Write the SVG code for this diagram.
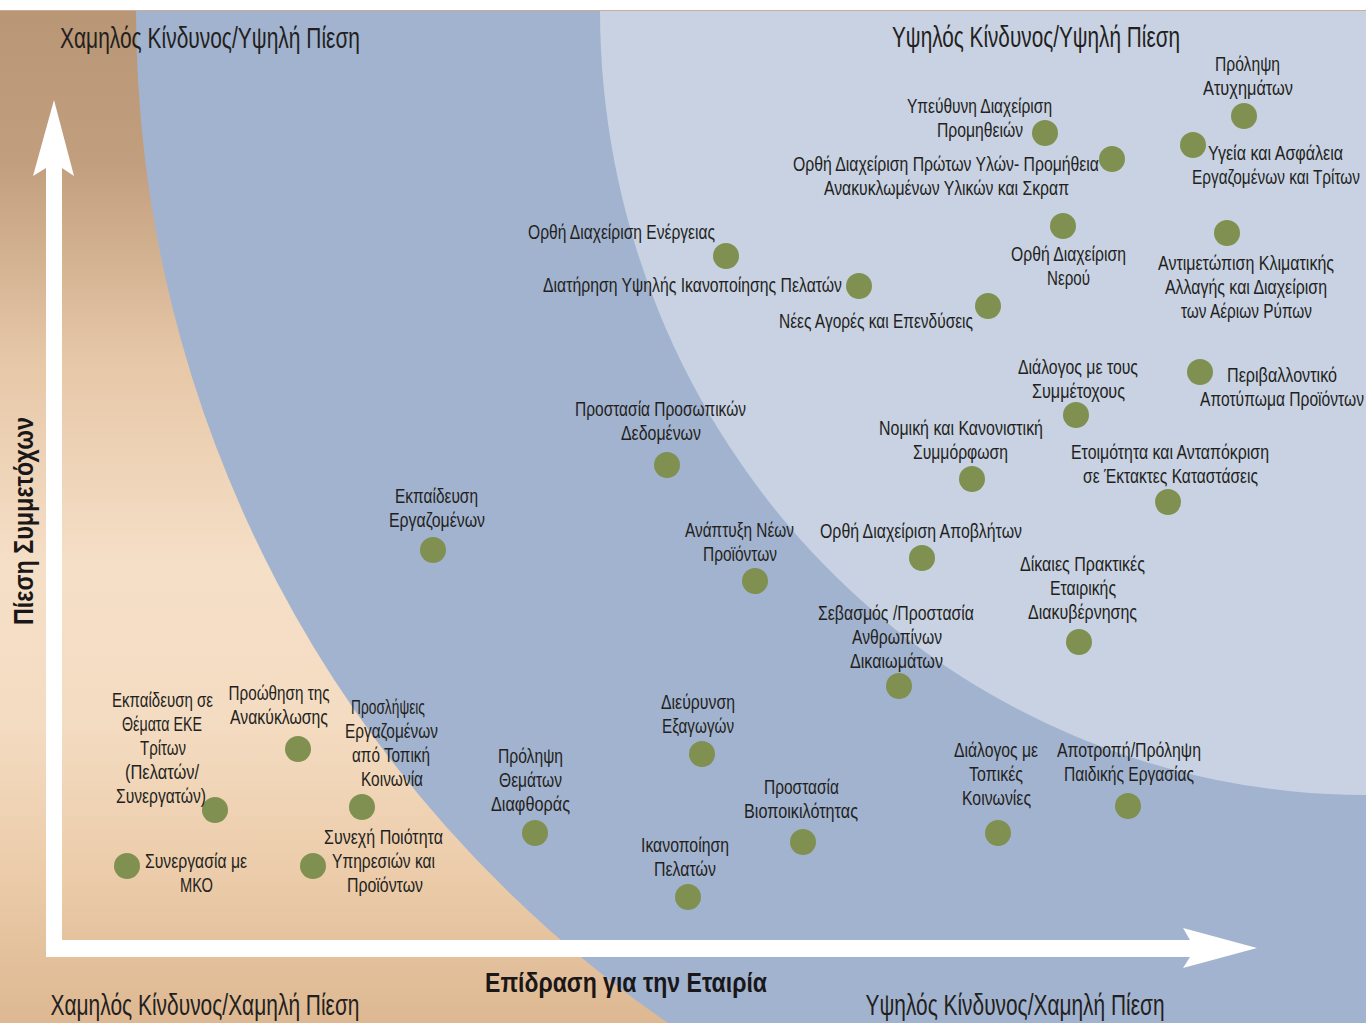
<svg xmlns="http://www.w3.org/2000/svg" width="1366" height="1023" viewBox="0 0 1366 1023">
<defs>
<style>
.t{font-family:"Liberation Sans Narrow","Liberation Sans",Arial,sans-serif;font-size:21px;fill:#231f20;text-anchor:middle}
.h{font-family:"Liberation Sans Narrow","Liberation Sans",Arial,sans-serif;font-size:29px;fill:#231f20;text-anchor:middle}
.b{font-family:"Liberation Sans Narrow","Liberation Sans",Arial,sans-serif;font-size:28px;font-weight:bold;fill:#1a1718;text-anchor:middle}
.dot{fill:#7f9050}
</style>
<linearGradient id="tan" gradientUnits="userSpaceOnUse" x1="0" y1="10" x2="0" y2="1023">
<stop offset="0" stop-color="#b99676"/>
<stop offset="0.15" stop-color="#c19e7e"/>
<stop offset="0.35" stop-color="#e7c8a8"/>
<stop offset="0.55" stop-color="#f5dfc7"/>
<stop offset="0.7" stop-color="#f4dcc2"/>
<stop offset="0.85" stop-color="#ecccaa"/>
<stop offset="1" stop-color="#ddb892"/>
</linearGradient>
</defs>
<rect x="0" y="0" width="1366" height="1023" fill="#ffffff"/>
<g id="background">
<rect x="0" y="10" width="1366" height="1013" fill="url(#tan)"/>
<path d="M136 10 A1230 1230 0 0 0 668 1023 L1366 1023 L1366 10 Z" fill="#a2b3cf"/>
<path d="M600 10 A766 785 0 0 0 1366 795 L1366 10 Z" fill="#c8d2e3"/>
<line x1="0" y1="10.5" x2="1366" y2="10.5" stroke="#c8ae96" stroke-width="1"/>
</g>
<g id="connectors">
<path d="M54 100 L74 176 L62 168 L62 957 L46 957 L46 168 L33 176 Z" fill="#ffffff"/>
<path d="M1257 948 L1183 928 L1190 940 L46 940 L46 957 L1190 957 L1183 968 Z" fill="#ffffff"/>
</g>
<g id="titles">
<text class="h" x="210" y="48" textLength="300" lengthAdjust="spacingAndGlyphs">Χαμηλός Κίνδυνος/Υψηλή Πίεση</text>
<text class="h" x="1036" y="47" textLength="288" lengthAdjust="spacingAndGlyphs">Υψηλός Κίνδυνος/Υψηλή Πίεση</text>
<text class="h" x="205" y="1015" textLength="309" lengthAdjust="spacingAndGlyphs">Χαμηλός Κίνδυνος/Χαμηλή Πίεση</text>
<text class="h" x="1015" y="1015" textLength="299" lengthAdjust="spacingAndGlyphs">Υψηλός Κίνδυνος/Χαμηλή Πίεση</text>
<text class="b" x="626" y="992" textLength="282" lengthAdjust="spacingAndGlyphs">Επίδραση για την Εταιρία</text>
<text class="b" transform="translate(33 521) rotate(-90)" x="0" y="0" textLength="208" lengthAdjust="spacingAndGlyphs">Πίεση Συμμετόχων</text>
</g>
<g id="n-ypeuthyni">
<circle class="dot" cx="1045" cy="133" r="13"/>
<text class="t" x="979.5" y="113" textLength="145" lengthAdjust="spacingAndGlyphs">Υπεύθυνη Διαχείριση</text>
<text class="t" x="980" y="137" textLength="86" lengthAdjust="spacingAndGlyphs">Προμηθειών</text>
</g>
<g id="n-protes-yles">
<circle class="dot" cx="1112" cy="159" r="13"/>
<text class="t" x="946" y="171" textLength="306" lengthAdjust="spacingAndGlyphs">Ορθή Διαχείριση Πρώτων Υλών- Προμήθεια</text>
<text class="t" x="946.5" y="195" textLength="245" lengthAdjust="spacingAndGlyphs">Ανακυκλωμένων Υλικών και Σκραπ</text>
</g>
<g id="n-nero">
<circle class="dot" cx="1063" cy="226" r="13"/>
<text class="t" x="1068.5" y="261" textLength="115" lengthAdjust="spacingAndGlyphs">Ορθή Διαχείριση</text>
<text class="t" x="1068.5" y="285" textLength="43" lengthAdjust="spacingAndGlyphs">Νερού</text>
</g>
<g id="n-energeia">
<circle class="dot" cx="726" cy="256" r="13"/>
<text class="t" x="621.5" y="239" textLength="187" lengthAdjust="spacingAndGlyphs">Ορθή Διαχείριση Ενέργειας</text>
</g>
<g id="n-ikanopoiisi-ypsili">
<circle class="dot" cx="859" cy="286" r="13"/>
<text class="t" x="692.5" y="292" textLength="299" lengthAdjust="spacingAndGlyphs">Διατήρηση Υψηλής Ικανοποίησης Πελατών</text>
</g>
<g id="n-agores">
<circle class="dot" cx="988" cy="306" r="13"/>
<text class="t" x="876" y="328" textLength="194" lengthAdjust="spacingAndGlyphs">Νέες Αγορές και Επενδύσεις</text>
</g>
<g id="n-atyximata">
<circle class="dot" cx="1244" cy="116" r="13"/>
<text class="t" x="1247.5" y="71" textLength="65" lengthAdjust="spacingAndGlyphs">Πρόληψη</text>
<text class="t" x="1248" y="95" textLength="90" lengthAdjust="spacingAndGlyphs">Ατυχημάτων</text>
</g>
<g id="n-ygeia">
<circle class="dot" cx="1193" cy="145" r="13"/>
<text class="t" x="1275.5" y="160" textLength="135" lengthAdjust="spacingAndGlyphs">Υγεία και Ασφάλεια</text>
<text class="t" x="1276" y="184" textLength="168" lengthAdjust="spacingAndGlyphs">Εργαζομένων και Τρίτων</text>
</g>
<g id="n-klima">
<circle class="dot" cx="1227" cy="233" r="13"/>
<text class="t" x="1246" y="270" textLength="176" lengthAdjust="spacingAndGlyphs">Αντιμετώπιση Κλιματικής</text>
<text class="t" x="1246" y="294" textLength="162" lengthAdjust="spacingAndGlyphs">Αλλαγής και Διαχείριση</text>
<text class="t" x="1246.5" y="318" textLength="131" lengthAdjust="spacingAndGlyphs">των Αέριων Ρύπων</text>
</g>
<g id="n-dialogos-metoxoi">
<circle class="dot" cx="1076" cy="415" r="13"/>
<text class="t" x="1078" y="374" textLength="120" lengthAdjust="spacingAndGlyphs">Διάλογος με τους</text>
<text class="t" x="1078.5" y="398" textLength="93" lengthAdjust="spacingAndGlyphs">Συμμέτοχους</text>
</g>
<g id="n-apotypoma">
<circle class="dot" cx="1200" cy="372" r="13"/>
<text class="t" x="1282" y="382" textLength="110" lengthAdjust="spacingAndGlyphs">Περιβαλλοντικό</text>
<text class="t" x="1282" y="406" textLength="164" lengthAdjust="spacingAndGlyphs">Αποτύπωμα Προϊόντων</text>
</g>
<g id="n-etoimotita">
<circle class="dot" cx="1168" cy="502" r="13"/>
<text class="t" x="1170" y="459" textLength="198" lengthAdjust="spacingAndGlyphs">Ετοιμότητα και Ανταπόκριση</text>
<text class="t" x="1170.5" y="483" textLength="175" lengthAdjust="spacingAndGlyphs">σε Έκτακτες Καταστάσεις</text>
</g>
<g id="n-nomiki">
<circle class="dot" cx="972" cy="479" r="13"/>
<text class="t" x="961" y="435" textLength="164" lengthAdjust="spacingAndGlyphs">Νομική και Κανονιστική</text>
<text class="t" x="960.5" y="459" textLength="95" lengthAdjust="spacingAndGlyphs">Συμμόρφωση</text>
</g>
<g id="n-dedomena">
<circle class="dot" cx="667" cy="465" r="13"/>
<text class="t" x="660.5" y="416" textLength="171" lengthAdjust="spacingAndGlyphs">Προστασία Προσωπικών</text>
<text class="t" x="661" y="440" textLength="80" lengthAdjust="spacingAndGlyphs">Δεδομένων</text>
</g>
<g id="n-nea-proionta">
<circle class="dot" cx="755" cy="581" r="13"/>
<text class="t" x="739.5" y="537" textLength="109" lengthAdjust="spacingAndGlyphs">Ανάπτυξη Νέων</text>
<text class="t" x="740" y="561" textLength="74" lengthAdjust="spacingAndGlyphs">Προϊόντων</text>
</g>
<g id="n-apovlita">
<circle class="dot" cx="922" cy="558" r="13"/>
<text class="t" x="921" y="538" textLength="202" lengthAdjust="spacingAndGlyphs">Ορθή Διαχείριση Αποβλήτων</text>
</g>
<g id="n-diakyvernisi">
<circle class="dot" cx="1079" cy="642" r="13"/>
<text class="t" x="1082.5" y="571" textLength="125" lengthAdjust="spacingAndGlyphs">Δίκαιες Πρακτικές</text>
<text class="t" x="1083" y="595" textLength="66" lengthAdjust="spacingAndGlyphs">Εταιρικής</text>
<text class="t" x="1082.5" y="619" textLength="109" lengthAdjust="spacingAndGlyphs">Διακυβέρνησης</text>
</g>
<g id="n-dikaiomata">
<circle class="dot" cx="899" cy="686" r="13"/>
<text class="t" x="896" y="620" textLength="156" lengthAdjust="spacingAndGlyphs">Σεβασμός /Προστασία</text>
<text class="t" x="897" y="644" textLength="90" lengthAdjust="spacingAndGlyphs">Ανθρωπίνων</text>
<text class="t" x="896.5" y="668" textLength="93" lengthAdjust="spacingAndGlyphs">Δικαιωμάτων</text>
</g>
<g id="n-ekpaideusi">
<circle class="dot" cx="433" cy="550" r="13"/>
<text class="t" x="436.5" y="503" textLength="83" lengthAdjust="spacingAndGlyphs">Εκπαίδευση</text>
<text class="t" x="437" y="527" textLength="96" lengthAdjust="spacingAndGlyphs">Εργαζομένων</text>
</g>
<g id="n-eke">
<circle class="dot" cx="215" cy="810" r="13"/>
<text class="t" x="162.5" y="707" textLength="101" lengthAdjust="spacingAndGlyphs">Εκπαίδευση σε</text>
<text class="t" x="162" y="731" textLength="80" lengthAdjust="spacingAndGlyphs">Θέματα ΕΚΕ</text>
<text class="t" x="163" y="755" textLength="46" lengthAdjust="spacingAndGlyphs">Τρίτων</text>
<text class="t" x="162" y="779" textLength="74" lengthAdjust="spacingAndGlyphs">(Πελατών/</text>
<text class="t" x="161" y="803" textLength="90" lengthAdjust="spacingAndGlyphs">Συνεργατών)</text>
</g>
<g id="n-anakyklosi">
<circle class="dot" cx="298" cy="749" r="13"/>
<text class="t" x="279" y="700" textLength="101" lengthAdjust="spacingAndGlyphs">Προώθηση της</text>
<text class="t" x="279" y="724" textLength="98" lengthAdjust="spacingAndGlyphs">Ανακύκλωσης</text>
</g>
<g id="n-proslipseis">
<circle class="dot" cx="362" cy="807" r="13"/>
<text class="t" x="388" y="714" textLength="74" lengthAdjust="spacingAndGlyphs">Προσλήψεις</text>
<text class="t" x="391.5" y="738" textLength="93" lengthAdjust="spacingAndGlyphs">Εργαζομένων</text>
<text class="t" x="391" y="762" textLength="78" lengthAdjust="spacingAndGlyphs">από Τοπική</text>
<text class="t" x="392" y="786" textLength="62" lengthAdjust="spacingAndGlyphs">Κοινωνία</text>
</g>
<g id="n-mko">
<circle class="dot" cx="127" cy="866" r="13"/>
<text class="t" x="196" y="868" textLength="102" lengthAdjust="spacingAndGlyphs">Συνεργασία με</text>
<text class="t" x="196.5" y="892" textLength="33" lengthAdjust="spacingAndGlyphs">ΜΚΟ</text>
</g>
<g id="n-poiotita">
<circle class="dot" cx="313" cy="866" r="13"/>
<text class="t" x="383.5" y="844" textLength="119" lengthAdjust="spacingAndGlyphs">Συνεχή Ποιότητα</text>
<text class="t" x="383.5" y="868" textLength="103" lengthAdjust="spacingAndGlyphs">Υπηρεσιών και</text>
<text class="t" x="385" y="892" textLength="76" lengthAdjust="spacingAndGlyphs">Προϊόντων</text>
</g>
<g id="n-diafthora">
<circle class="dot" cx="535" cy="833" r="13"/>
<text class="t" x="530.5" y="763" textLength="65" lengthAdjust="spacingAndGlyphs">Πρόληψη</text>
<text class="t" x="530.5" y="787" textLength="63" lengthAdjust="spacingAndGlyphs">Θεμάτων</text>
<text class="t" x="530.5" y="811" textLength="79" lengthAdjust="spacingAndGlyphs">Διαφθοράς</text>
</g>
<g id="n-exagoges">
<circle class="dot" cx="702" cy="754" r="13"/>
<text class="t" x="698" y="709" textLength="74" lengthAdjust="spacingAndGlyphs">Διεύρυνση</text>
<text class="t" x="698" y="733" textLength="72" lengthAdjust="spacingAndGlyphs">Εξαγωγών</text>
</g>
<g id="n-viopoikilotita">
<circle class="dot" cx="803" cy="842" r="13"/>
<text class="t" x="801.5" y="794" textLength="75" lengthAdjust="spacingAndGlyphs">Προστασία</text>
<text class="t" x="801" y="818" textLength="114" lengthAdjust="spacingAndGlyphs">Βιοποικιλότητας</text>
</g>
<g id="n-ikanopoiisi">
<circle class="dot" cx="688" cy="897" r="13"/>
<text class="t" x="685" y="852" textLength="88" lengthAdjust="spacingAndGlyphs">Ικανοποίηση</text>
<text class="t" x="685" y="876" textLength="62" lengthAdjust="spacingAndGlyphs">Πελατών</text>
</g>
<g id="n-topikes">
<circle class="dot" cx="998" cy="833" r="13"/>
<text class="t" x="996" y="757" textLength="84" lengthAdjust="spacingAndGlyphs">Διάλογος με</text>
<text class="t" x="996" y="781" textLength="54" lengthAdjust="spacingAndGlyphs">Τοπικές</text>
<text class="t" x="996.5" y="805" textLength="69" lengthAdjust="spacingAndGlyphs">Κοινωνίες</text>
</g>
<g id="n-paidiki">
<circle class="dot" cx="1128" cy="806" r="13"/>
<text class="t" x="1129" y="757" textLength="144" lengthAdjust="spacingAndGlyphs">Αποτροπή/Πρόληψη</text>
<text class="t" x="1129" y="781" textLength="130" lengthAdjust="spacingAndGlyphs">Παιδικής Εργασίας</text>
</g>
</svg>
